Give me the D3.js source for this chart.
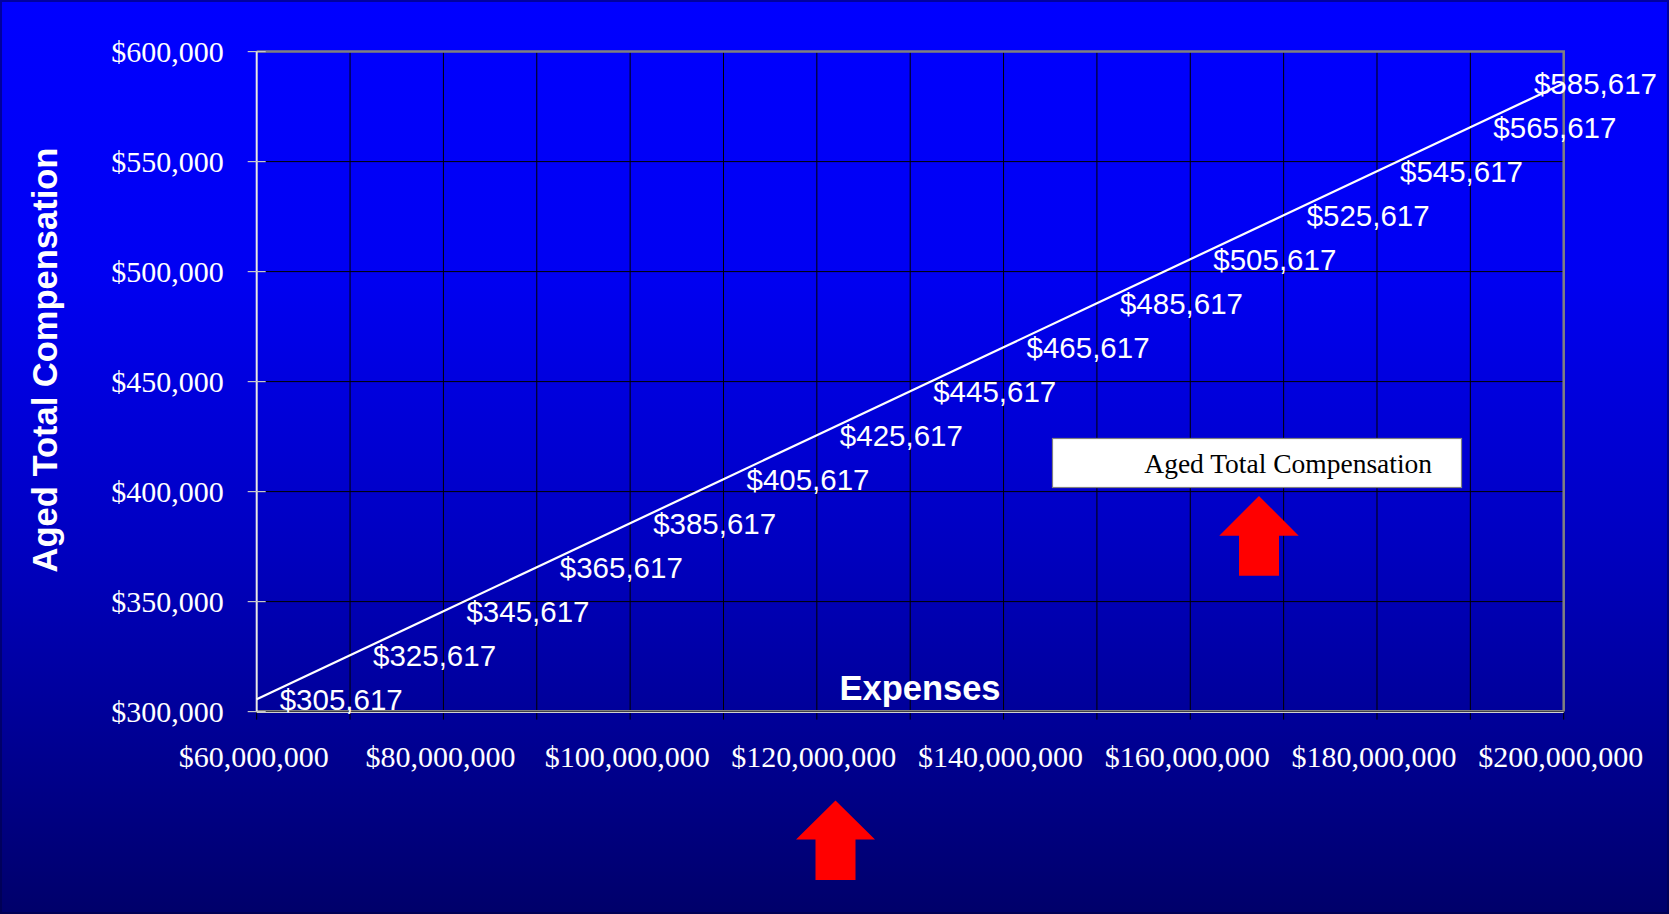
<!DOCTYPE html>
<html><head><meta charset="utf-8">
<script src="https://cdn.jsdelivr.net/npm/d3@7"></script>
<style>html,body{margin:0;padding:0;background:#000080;overflow:hidden}</style>
</head><body>
<svg id="chart" width="1669" height="914"></svg>
<script>
// ---------- data ----------
const expenses = [60000000, 70000000, 80000000, 90000000, 100000000, 110000000, 120000000,
  130000000, 140000000, 150000000, 160000000, 170000000, 180000000, 190000000, 200000000];
const compensation = [305617, 325617, 345617, 365617, 385617, 405617, 425617,
  445617, 465617, 485617, 505617, 525617, 545617, 565617, 585617];
const xTickValues = [60000000, 80000000, 100000000, 120000000, 140000000, 160000000, 180000000, 200000000];
const xGridValues = [60000000, 70000000, 80000000, 90000000, 100000000, 110000000, 120000000,
  130000000, 140000000, 150000000, 160000000, 170000000, 180000000, 190000000, 200000000];
const yTickValues = [300000, 350000, 400000, 450000, 500000, 550000, 600000];
const seriesName = "Aged Total Compensation";
const xTitle = "Expenses";
const yTitle = "Aged Total Compensation";

// ---------- layout ----------
const W = 1669, H = 914;
const plot = {left: 256.7, right: 1563.7, top: 51.6, bottom: 711.6};
const SERIF = "'Liberation Serif','Times New Roman',Times,serif";
const SANS = "'Liberation Sans',Arial,Helvetica,sans-serif";

const svg = d3.select("#chart");
const x = d3.scaleLinear().domain([60000000, 200000000]).range([plot.left, plot.right]);
const y = d3.scaleLinear().domain([300000, 600000]).range([plot.bottom, plot.top]);
const money = v => "$" + d3.format(",")(v);

// background gradient
const defs = svg.append("defs");
const grad = defs.append("linearGradient").attr("id", "bg").attr("x1", 0).attr("y1", 0).attr("x2", 0).attr("y2", 1);
[[0, "#0000ff"], [0.3, "#0000f2"], [0.6, "#0000c0"], [1, "#00006a"]].forEach(([o, c]) =>
  grad.append("stop").attr("offset", o).attr("stop-color", c));
svg.append("rect").attr("width", W).attr("height", H).attr("fill", "url(#bg)");
svg.append("rect").attr("x", 1).attr("y", 1).attr("width", W - 2).attr("height", H - 2)
  .attr("fill", "none").attr("stroke", "#000040").attr("stroke-opacity", 0.5).attr("stroke-width", 2);

// grid lines
const g = svg.append("g");
g.selectAll("line.vg").data(xGridValues).join("line").attr("class", "vg")
  .attr("x1", d => x(d)).attr("x2", d => x(d))
  .attr("y1", plot.top).attr("y2", plot.bottom + 8)
  .attr("stroke", "#000000").attr("stroke-width", 1);
g.selectAll("line.hg").data(yTickValues).join("line").attr("class", "hg")
  .attr("x1", plot.left).attr("x2", plot.right)
  .attr("y1", d => y(d)).attr("y2", d => y(d))
  .attr("stroke", "#000000").attr("stroke-width", 1);

// plot border (top / right gray)
g.append("path").attr("d", `M${plot.left},${plot.top}H${plot.right}V${plot.bottom}`)
  .attr("fill", "none").attr("stroke", "#808080").attr("stroke-width", 2.5);
// bottom axis (double line)
g.append("line").attr("x1", plot.left).attr("x2", plot.right).attr("y1", plot.bottom - 0.8).attr("y2", plot.bottom - 0.8)
  .attr("stroke", "#808080").attr("stroke-width", 1.6);
g.append("line").attr("x1", plot.left).attr("x2", plot.right).attr("y1", plot.bottom + 0.9).attr("y2", plot.bottom + 0.9)
  .attr("stroke", "#d0d0d0").attr("stroke-width", 1.2);
// y axis
g.append("line").attr("x1", plot.left).attr("x2", plot.left).attr("y1", plot.top).attr("y2", plot.bottom)
  .attr("stroke", "#e8e8e8").attr("stroke-width", 2);
g.selectAll("line.yt").data(yTickValues).join("line").attr("class", "yt")
  .attr("x1", plot.left - 9).attr("x2", plot.left + 9)
  .attr("y1", d => y(d)).attr("y2", d => y(d))
  .attr("stroke", "#c8c8c8").attr("stroke-width", 1.2);

// tick labels
svg.append("g").selectAll("text").data(yTickValues).join("text")
  .attr("x", plot.left - 33).attr("y", d => y(d) + 10.5)
  .attr("text-anchor", "end").attr("fill", "#ffffff")
  .attr("font-family", SERIF).attr("font-size", 30).text(money);
svg.append("g").selectAll("text").data(xTickValues).join("text")
  .attr("x", d => x(d) - 3).attr("y", 766.7)
  .attr("text-anchor", "middle").attr("fill", "#ffffff")
  .attr("font-family", SERIF).attr("font-size", 30).text(money);

// series line
const pts = expenses.map((e, i) => ({x: e, y: compensation[i]}));
svg.append("path").datum(pts)
  .attr("d", d3.line().x(d => x(d.x)).y(d => y(d.y)))
  .attr("fill", "none").attr("stroke", "#ffffff").attr("stroke-width", 2.2);

// data labels (to the right of each point, kept inside the chart area)
const labelRightLimit = W - 12;
svg.append("g").selectAll("text").data(pts).join("text")
  .attr("y", d => y(d.y) + 10.4)
  .attr("fill", "#ffffff").attr("font-family", SANS).attr("font-size", 29.5)
  .text(d => money(d.y))
  .attr("x", function(d) {
    const w = this.getComputedTextLength();
    return Math.min(x(d.x) + 23, labelRightLimit - w);
  });

// axis titles
svg.append("text").attr("x", 920).attr("y", 700)
  .attr("text-anchor", "middle").attr("fill", "#ffffff")
  .attr("font-family", SANS).attr("font-weight", "bold").attr("font-size", 34.5).text(xTitle);
svg.append("text").attr("transform", "translate(57,360) rotate(-90)")
  .attr("text-anchor", "middle").attr("fill", "#ffffff")
  .attr("font-family", SANS).attr("font-weight", "bold").attr("font-size", 34.5).text(yTitle);

// legend
const lg = svg.append("g");
lg.append("rect").attr("x", 1052.5).attr("y", 438.5).attr("width", 409).attr("height", 49)
  .attr("fill", "#ffffff").attr("stroke", "#808080").attr("stroke-width", 1.2);
lg.append("line").attr("x1", 1070).attr("x2", 1130).attr("y1", 463).attr("y2", 463)
  .attr("stroke", "#ffffff").attr("stroke-width", 2.2);
lg.append("text").attr("x", 1144.3).attr("y", 473.3).attr("fill", "#000000")
  .attr("font-family", SERIF).attr("font-size", 27.5).text(seriesName);

// annotation arrows (red up-arrows)
function upArrow(cx, tipY, headW, headH, shaftW, totalH) {
  const hb = tipY + headH, bot = tipY + totalH;
  return `M${cx},${tipY}L${cx + headW / 2},${hb}H${cx + shaftW / 2}V${bot}H${cx - shaftW / 2}V${hb}H${cx - headW / 2}Z`;
}
svg.append("path").attr("d", upArrow(835.5, 800.5, 79, 39, 40, 79.5)).attr("fill", "#ff0000");
svg.append("path").attr("d", upArrow(1259, 496, 79.5, 39.7, 40, 79.7)).attr("fill", "#ff0000");
</script>
</body></html>
